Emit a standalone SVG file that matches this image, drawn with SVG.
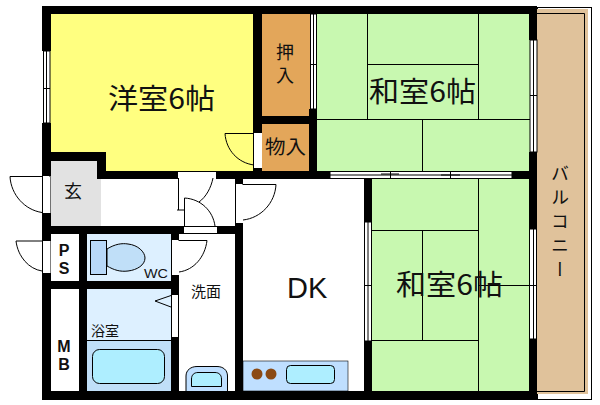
<svg xmlns="http://www.w3.org/2000/svg" width="600" height="405" viewBox="0 0 600 405">
<style>
.w{fill:#000}
.o{fill:#fff;stroke:#000;stroke-width:1}
.l{fill:none;stroke:#000;stroke-width:1}
.t{font-family:"Noto Sans CJK JP","Liberation Sans",sans-serif;fill:#111}
.b{font-family:"Liberation Sans",sans-serif;fill:#111}
.v{writing-mode:vertical-rl}
</style>
<rect width="600" height="405" fill="#fff"/>
<!-- balcony -->
<rect x="537.5" y="7.5" width="54" height="392" fill="#fff" stroke="#000"/>
<rect x="537" y="9" width="51" height="385" fill="#E0C29B"/>
<path class="l" d="M537 13.500H584.500V391.500H537"/>
<!-- rooms -->
<rect x="50" y="14" width="204" height="158" fill="#FFFF80"/>
<rect x="262" y="14" width="48" height="103" fill="#E3A65A"/>
<rect x="262" y="124" width="48" height="48" fill="#E3A65A"/>
<rect x="317" y="14" width="213" height="158" fill="#C8F8B0"/>
<rect x="372" y="178" width="158" height="213" fill="#C8F8B0"/>
<rect x="50" y="160" width="51" height="66" fill="#E2E2E2"/>
<rect x="87" y="234" width="85" height="47" fill="#DDF0FF"/>
<rect x="87" y="289" width="85" height="52" fill="#DDF0FF"/>
<rect x="87" y="341" width="85" height="50" fill="#C0DFF8"/>
<rect x="243" y="361" width="105" height="30" fill="#BFDFFF" stroke="#000" stroke-width=".6"/>
<!-- tatami lines -->
<path class="l" d="M367.500 14V119M478.500 14V119M367 64.500H478M317 119.500H530M422.500 119V172M478.500 178V391M372 230.500H478M372 340.500H478M422.500 230V340M478 285.500H530"/>
<!-- walls -->
<g>
<rect class="w" x="42" y="6" width="495" height="8"/>
<rect class="w" x="42" y="6" width="9" height="45"/>
<rect class="w" x="42" y="123" width="9" height="53"/>
<rect class="w" x="42" y="213" width="9" height="28"/>
<rect class="w" x="42" y="273" width="9" height="127"/>
<rect class="w" x="42" y="391" width="495" height="9"/>
<rect class="w" x="42" y="152" width="64" height="9"/>
<rect class="w" x="97" y="152" width="9" height="26"/>
<rect class="w" x="253" y="14" width="9" height="119"/>
<rect class="w" x="253" y="168" width="9" height="4"/>
<rect class="w" x="262" y="116" width="48" height="8"/>
<rect class="w" x="309" y="109" width="8" height="69"/>
<rect class="w" x="97" y="171" width="81" height="8"/>
<rect class="w" x="216" y="171" width="114" height="8"/>
<rect class="w" x="512" y="171" width="25" height="8"/>
<rect class="w" x="529" y="6" width="8" height="34"/>
<rect class="w" x="529" y="152" width="8" height="77"/>
<rect class="w" x="529" y="339" width="8" height="61"/>
<rect class="w" x="364" y="178" width="8" height="44"/>
<rect class="w" x="364" y="341" width="8" height="50"/>
<rect class="w" x="235" y="178" width="8" height="6"/>
<rect class="w" x="235" y="223" width="8" height="177"/>
<rect class="w" x="42" y="226" width="142" height="8"/>
<rect class="w" x="217" y="226" width="26" height="8"/>
<rect class="w" x="79" y="234" width="8" height="157"/>
<rect class="w" x="50" y="281" width="129" height="8"/>
<rect class="w" x="171" y="234" width="8" height="6"/>
<rect class="w" x="171" y="275" width="8" height="20"/>
<rect class="w" x="171" y="337" width="8" height="54"/>
</g>
<!-- windows and openings -->
<rect class="o" x="43.500" y="51" width="6.500" height="72"/>
<path class="l" d="M46.500 51V123M43 88.500H50"/>
<rect class="o" x="310.500" y="14" width="6" height="95"/>
<path class="l" d="M313.500 14V109M310 64.500H317"/>
<rect class="o" x="330" y="171.500" width="182" height="7"/>
<path class="l" d="M330 175H512M390.500 171V178M450.500 171V178"/>
<path d="M381 174H399M441 175H460" stroke="#000" fill="none"/>
<rect class="o" x="530" y="40" width="7" height="112"/>
<path class="l" d="M533.500 40V152M530 95.500H537"/>
<rect class="o" x="529.500" y="229" width="7" height="110"/>
<path class="l" d="M533.500 229V339M529 285.500H537"/>
<rect class="o" x="364.500" y="222" width="7" height="119"/>
<path class="l" d="M368 222V341M364 285.500H372"/>
<!-- doors -->
<rect x="254" y="133" width="7" height="35" fill="#fff"/>
<path class="l" d="M254 133.500H225C226 150 238 163 254 165M253.500 133V168"/>
<path class="l" d="M42.500 176.500H10C11 195 25 210 42 212.500M42.500 176V213M50 176V213"/>
<rect x="43" y="177" width="7" height="36" fill="#fff"/>
<path class="l" d="M42.500 241H16C18 257 29 269 42 271M42.500 240V273M50 240V273"/>
<rect x="43" y="241" width="7" height="32" fill="#fff"/>
<rect x="172" y="240" width="7" height="35" fill="#fff"/>
<path class="l" d="M171.500 240V275M178.500 240.500H207C205 257 194 270 179 272"/>
<rect x="236" y="184" width="7" height="39" fill="#fff"/>
<path class="l" d="M235.500 184V223M242.500 184.500H276C275 203 261 218 243 220"/>
<rect x="178" y="171" width="38" height="7" fill="#fff"/>
<path class="l" d="M178 171.500H216M178.500 178V210M177 210H184M213 178C211 188 206 197 199 202"/>
<rect x="184" y="226" width="33" height="7" fill="#fff"/>
<path class="l" d="M184.500 198V226M184 226.500H217M184 233.500H217M184.500 198C201 199 213 211 215 226"/>
<rect x="172" y="295" width="7" height="42" fill="#fff"/>
<path class="l" d="M171.500 295V337M178.500 295V337M171 295.500L155 301L171 307"/>
<path class="l" d="M87 340.500H172"/>
<!-- fixtures -->
<rect x="90.500" y="240.500" width="16" height="34" fill="#B8D8F8" stroke="#000"/>
<path d="M107 249C115 244 122 243 128 244C138 245 145 252 145 258C145 265 137 270 128 271C120 272 114 270 107 266Z" fill="#C0DFF8" stroke="#000"/>
<rect x="92.500" y="349.500" width="72" height="34" rx="7" fill="#AEEEFF" stroke="#000"/>
<path d="M186 391V376C186 370 191 366.500 197 366.500H217C223 366.500 227.500 370 227.500 376V391" fill="#BFDFFF" stroke="#000"/>
<path d="M191.500 386.500V379C191.500 375 194 372.500 198 372.500H215C219 372.500 221.500 375 221.500 379V386.500Z" fill="#AEEEFF" stroke="#000"/>
<circle cx="257" cy="374" r="5.500" fill="#8B4A14"/>
<circle cx="271" cy="374" r="5.500" fill="#8B4A14"/>
<rect x="286.500" y="365.500" width="48" height="18" rx="4" fill="#AEEEFF" stroke="#000"/>
<!-- labels -->
<text class="t" x="108" y="109" font-size="28" textLength="107" lengthAdjust="spacingAndGlyphs">洋室6帖</text>
<text class="t" x="369" y="102" font-size="28" textLength="107" lengthAdjust="spacingAndGlyphs">和室6帖</text>
<text class="t" x="396" y="295" font-size="28" textLength="107" lengthAdjust="spacingAndGlyphs">和室6帖</text>
<text class="t v" x="285" y="43" font-size="18" letter-spacing="5">押入</text>
<text class="t" x="265" y="154" font-size="19" textLength="41" lengthAdjust="spacingAndGlyphs">物入</text>
<text class="t" x="73" y="198" font-size="18" text-anchor="middle">玄</text>
<text class="t" x="191" y="297" font-size="15">洗面</text>
<text class="t" x="91" y="336" font-size="14">浴室</text>
<text class="b" x="144" y="278" font-size="13" textLength="24" lengthAdjust="spacingAndGlyphs">WC</text>
<text class="b" x="64" y="256" font-size="16" text-anchor="middle" font-weight="bold">P</text>
<text class="b" x="64" y="274" font-size="16" text-anchor="middle" font-weight="bold">S</text>
<text class="b" x="64" y="352" font-size="16" text-anchor="middle" font-weight="bold">M</text>
<text class="b" x="64" y="370" font-size="16" text-anchor="middle" font-weight="bold">B</text>
<text class="b" x="287" y="298" font-size="29">DK</text>
<text class="t v" x="560" y="164" font-size="18" letter-spacing="6">バルコニー</text>
</svg>
